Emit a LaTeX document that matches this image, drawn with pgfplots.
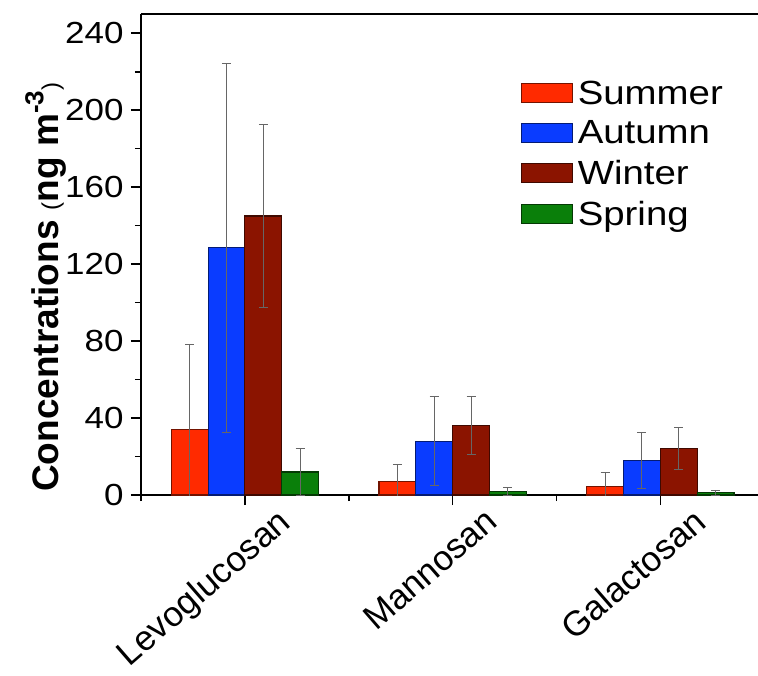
\documentclass[border=0pt]{standalone}
\usepackage{pgfplots}
\usepackage{pgfplotstable}
\pgfplotsset{compat=1.18}
\usepackage{fontspec}
\setmainfont{Liberation Sans}
\newfontfamily\wide{Liberation Sans}[FakeStretch=1.146]
\definecolor{csum}{HTML}{FF2A00}
\definecolor{caut}{HTML}{0A3CFF}
\definecolor{cwin}{HTML}{8B1400}
\definecolor{cspr}{HTML}{0A7F0A}
\pgfplotstableread{
x   summer sumerr autumn auterr winter winerr spring sprerr
1   34     44     128.5  96     145    47.5   12     12
2   7      9      28     23     36     15     1.8    2
3   4.5    7      18     14.5   24     11     1.2    1.4
}\datatable
\begin{document}
\begin{tikzpicture}
\begin{axis}[
  name=ax,
  scale only axis,
  width=617pt, height=481pt,
  xmin=0.5, xmax=3.47,
  ymin=0, ymax=250,
  axis x line*=bottom, axis y line*=left,
  x axis line style={line width=2pt, -},
  y axis line style={line width=2pt, -},
  ytick={0,40,...,240},
  minor ytick={20,60,...,220},
  xtick={1,2,3},
  minor xtick={0.5,1.5,2.5,3.5},
  xticklabels={Levoglucosan,Mannosan,Galactosan},
  tick align=outside,
  major tick length=10pt,
  minor tick length=6pt,
  every tick/.style={black, line width=1.6pt},
  /pgf/number format/assume math mode=true,
  yticklabel style={font=\wide\fontsize{30.5}{30.5}\selectfont, xshift=-4pt},
  xticklabel style={font=\fontsize{35}{35}\selectfont, xshift=31pt, yshift=-1pt, rotate=41, anchor=north east, inner sep=0pt},
  every axis y label/.style={at={(axis description cs:-0.133,0.432)}, anchor=base, rotate=90},
  ylabel={\bfseries\fontsize{37}{37}\selectfont Concentrations {\mdseries\fontsize{24}{24}\selectfont(}ng m\raisebox{0.42em}{\fontsize{26}{26}\selectfont -3}{\mdseries\fontsize{24}{24}\selectfont)}},
  clip=true,
  legend style={at={(rel axis cs:0.615,0.866)}, anchor=north west, draw=none, fill=none, inner sep=0pt,
     font=\wide\fontsize{33.5}{33.5}\selectfont, row sep=11pt,
     nodes={inner sep=2pt}},
  legend cell align=left,
  legend image code/.code={\draw[#1, line width=1pt] (0pt,-9.5pt) rectangle (51pt,9.5pt); \path (54pt,0pt);},
  error bars/error bar style={color=black!60, line width=1pt},
  error bars/error mark options={rotate=90, color=black!60, mark size=4.5pt, line width=1pt},
]
\addplot[ybar, bar width=0.177, bar shift=0, fill=csum, draw=csum!45!black, line width=1.2pt,
  error bars/.cd, y dir=both, y explicit] table[x expr=\thisrow{x}-0.2655, y=summer, y error=sumerr]{\datatable};
\addplot[ybar, bar width=0.177, bar shift=0, fill=caut, draw=caut!45!black, line width=1.2pt,
  error bars/.cd, y dir=both, y explicit] table[x expr=\thisrow{x}-0.0885, y=autumn, y error=auterr]{\datatable};
\addplot[ybar, bar width=0.177, bar shift=0, fill=cwin, draw=cwin!45!black, line width=1.2pt,
  error bars/.cd, y dir=both, y explicit] table[x expr=\thisrow{x}+0.0885, y=winter, y error=winerr]{\datatable};
\addplot[ybar, bar width=0.177, bar shift=0, fill=cspr, draw=cspr!45!black, line width=1.2pt,
  error bars/.cd, y dir=both, y explicit] table[x expr=\thisrow{x}+0.2655, y=spring, y error=sprerr]{\datatable};
\legend{Summer,Autumn,Winter,Spring}
\draw[line width=2pt] (rel axis cs:0,1) -- (rel axis cs:1,1);
\end{axis}
\path (ax.south west) ++(-141pt,-180pt) coordinate (bbA);
\path (ax.north east) ++(0pt,14pt) coordinate (bbB);
\pgfresetboundingbox
\path (bbA) rectangle (bbB);
\end{tikzpicture}
\end{document}
